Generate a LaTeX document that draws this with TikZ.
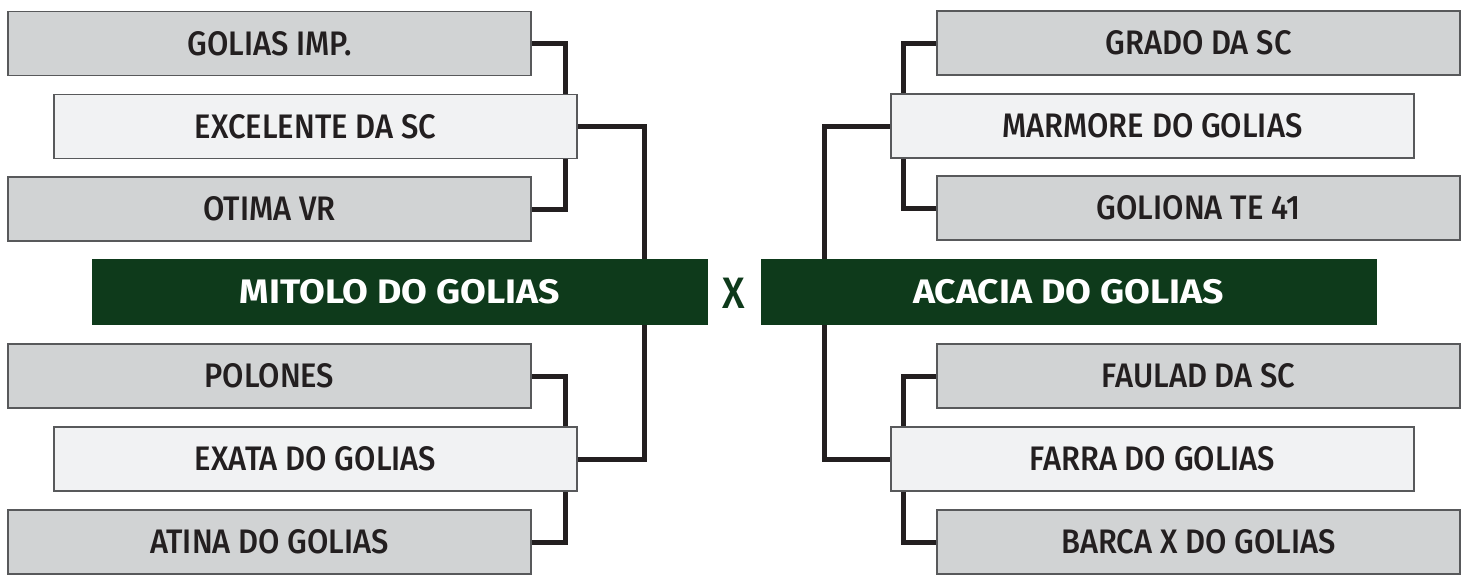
\documentclass[tikz,border=0pt]{standalone}
\usepackage{fontspec}
\setmainfont{Fira Sans}
\newfontfamily\entryfont{Fira Sans}[UprightFont=* Medium, FakeStretch=0.91]
\newfontfamily\finalfont{Fira Sans}[UprightFont=* Bold, FakeStretch=1.1]
\usepackage{xcolor}
\usepackage{tikz}
\usetikzlibrary{backgrounds}
\definecolor{boxgray}{HTML}{D1D3D4}
\definecolor{boxlight}{HTML}{F1F2F3}
\definecolor{boxedge}{HTML}{58595B}
\definecolor{teamgreen}{HTML}{0E3A1B}
\definecolor{bracketline}{HTML}{231F20}

\begin{document}
\begin{tikzpicture}[x=1pt, y=-1pt,
    entry/.style={draw=boxedge, line width=1.2pt, minimum width=523pt, minimum height=64pt,
        inner sep=0pt, font=\entryfont\fontsize{34}{40}\selectfont, text=bracketline},
    outer/.style={entry, fill=boxgray},
    inner/.style={entry, fill=boxlight},
    finalist/.style={fill=teamgreen, minimum width=616pt, minimum height=66pt, inner sep=0pt,
        text=white, font=\finalfont\fontsize{34}{40}\selectfont},
    bracket/.style={draw=bracketline, line width=5pt}]
    \useasboundingbox (0,0) rectangle (1469,574);
    % left half
    \node[outer] (l1) at (269.5,43.5) {GOLIAS IMP.};
    \node[inner] (l2) at (315.5,126.5) {EXCELENTE DA SC};
    \node[outer] (l3) at (269.5,209) {OTIMA VR};
    \node[finalist] (lA) at (400,292) {MITOLO DO GOLIAS};
    \node[outer] (l4) at (269.5,376) {POLONES};
    \node[inner] (l5) at (315.5,459) {EXATA DO GOLIAS};
    \node[outer] (l6) at (269.5,542) {ATINA DO GOLIAS};
    % right half
    \node[outer] (r1) at (1198.5,43) {GRADO DA SC};
    \node[inner] (r2) at (1152.5,126) {MARMORE DO GOLIAS};
    \node[outer] (r3) at (1198.5,208) {GOLIONA TE 41};
    \node[finalist] (rA) at (1068.5,292) {ACACIA DO GOLIAS};
    \node[outer] (r4) at (1198.5,376) {FAULAD DA SC};
    \node[inner] (r5) at (1152.5,459) {FARRA DO GOLIAS};
    \node[outer] (r6) at (1198.5,542) {BARCA X DO GOLIAS};
    \node[text=teamgreen, font=\entryfont\fontsize{44}{50}\selectfont] (vs) at (734,293) {X};
    % brackets behind the boxes
    \begin{scope}[on background layer]
        \draw[bracket] (l1.east) -- ++(34,0) |- (l3.east);
        \draw[bracket] (l4.east) -- ++(34,0) |- (l6.east);
        \draw[bracket] (l2.east) -- ++(67,0) |- (l5.east);
        \draw[bracket] (r1.west) -- ++(-33,0) |- (r3.west);
        \draw[bracket] (r4.west) -- ++(-33,0) |- (r6.west);
        \draw[bracket] (r2.west) -- ++(-66,0) |- (r5.west);
    \end{scope}
\end{tikzpicture}
\end{document}
